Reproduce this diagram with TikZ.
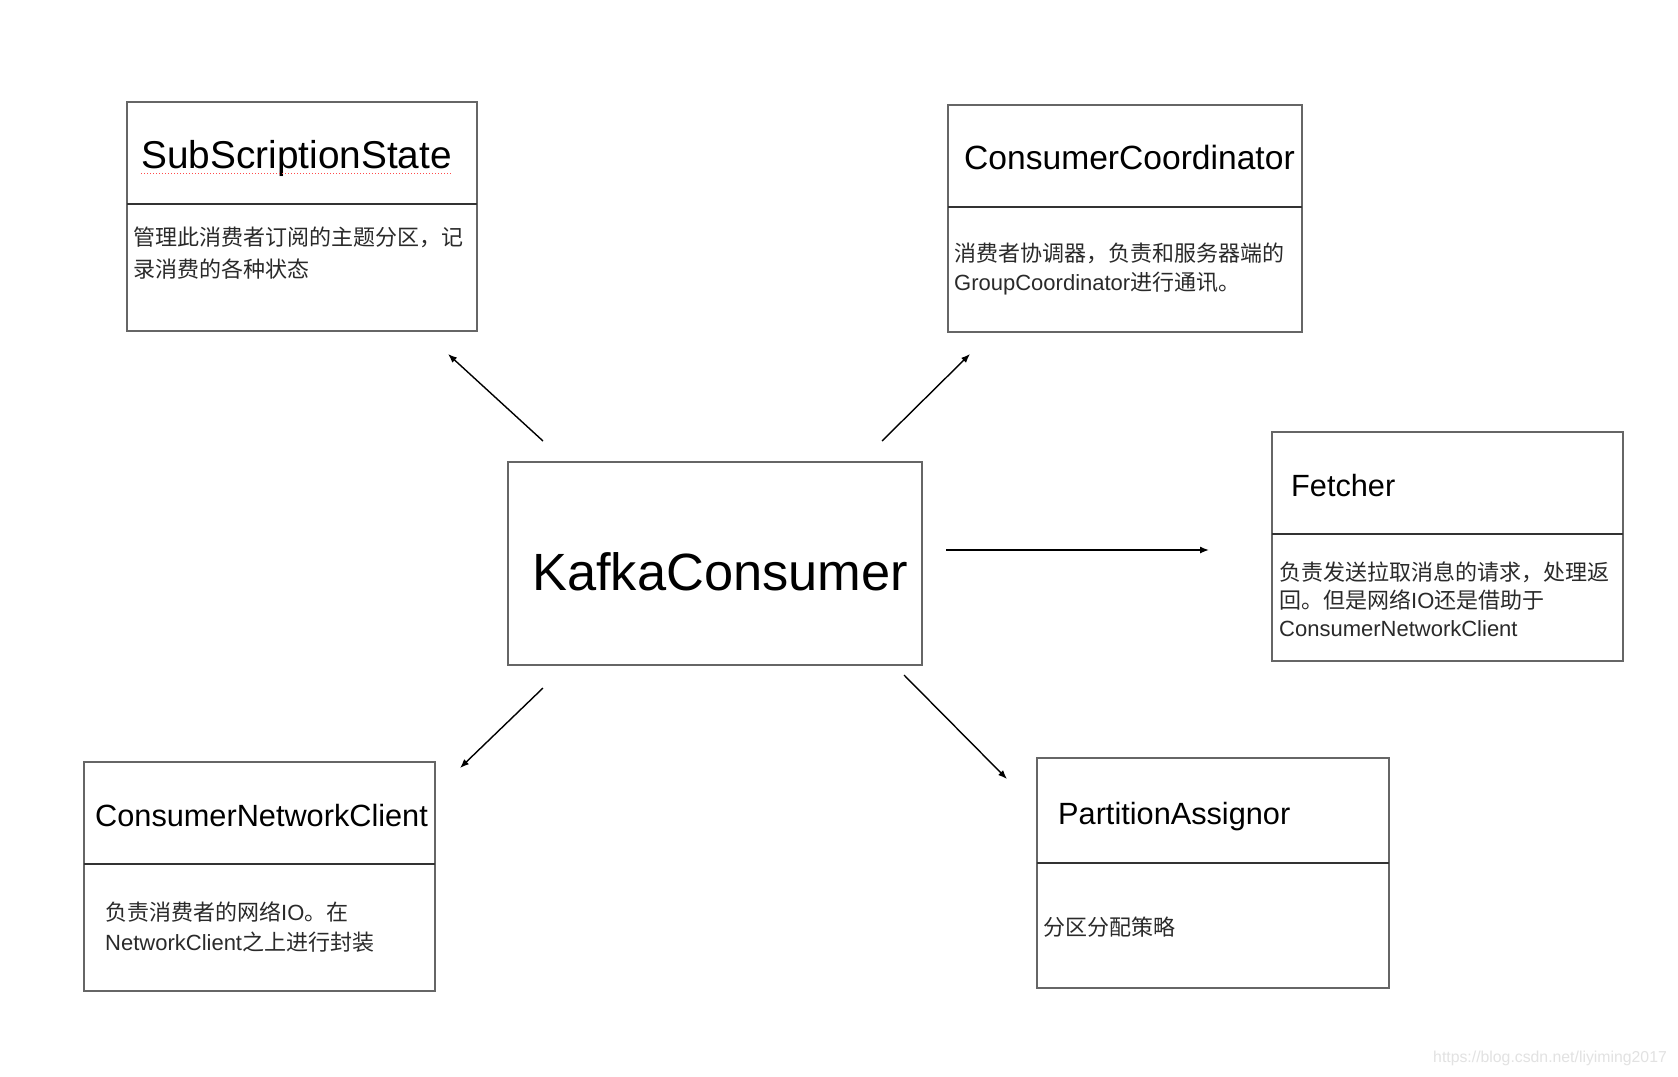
\documentclass[tikz,border=0pt]{standalone}
\usepackage{fontspec}
\setmainfont{Liberation Sans}
\newfontfamily\cjk{Noto Sans CJK SC}
\usetikzlibrary{arrows.meta}
\definecolor{boxline}{HTML}{666666}
\definecolor{divline}{HTML}{333333}
\definecolor{bodytext}{HTML}{2A2A2A}
\definecolor{wmark}{HTML}{E2E2E2}
\tikzset{
  classbox/.style={draw=boxline, line width=1.6pt, inner sep=0pt, fill=none},
  divider/.style={draw=divline, line width=1.8pt},
  headtext/.style={anchor=base west, inner sep=0pt, text=black, font=\fontsize{30.7}{36}\selectfont},
  bodyline/.style={anchor=base west, inner sep=0pt, text=bodytext, font=\fontsize{22}{26}\selectfont},
  link/.style={draw=black, line width=1.4pt, -{Latex[length=9pt,width=7pt]}},
}
\begin{document}
\begin{tikzpicture}[x=1pt,y=-1pt]
\useasboundingbox[fill=white] (0,0) rectangle (1678,1076);

% ---- boxes ----
\node[classbox, minimum width=350pt, minimum height=229pt] (ss) at (302,216.5) {};
\node[classbox, minimum width=354pt, minimum height=227pt] (cc) at (1125,218.5) {};
\node[classbox, minimum width=351pt, minimum height=229pt] (fe) at (1447.5,546.5) {};
\node[classbox, minimum width=351pt, minimum height=229pt] (cnc) at (259.5,876.5) {};
\node[classbox, minimum width=352pt, minimum height=230pt] (pa) at (1213,873) {};
\node[classbox, minimum width=414pt, minimum height=203pt] (kc) at (715,563.5) {};

% ---- dividers ----
\draw[divider] (127,204) -- (477,204);
\draw[divider] (948,207) -- (1302,207);
\draw[divider] (1272,534) -- (1623,534);
\draw[divider] (84,864) -- (435,864);
\draw[divider] (1037,863) -- (1389,863);

% ---- headers ----
\node[headtext, font=\fontsize{38.8}{44}\selectfont] (ssh) at (141,168) {SubScriptionState};
\draw[red!70, line width=1pt, dotted] (141,173) -- (452,173);
\node[headtext, font=\fontsize{33.6}{40}\selectfont] (cch) at (964,169) {ConsumerCoordinator};
\node[headtext] (feh) at (1291,496) {Fetcher};
\node[headtext] (cnch) at (95,826) {ConsumerNetworkClient};
\node[headtext] (pah) at (1058,824) {PartitionAssignor};
\node[headtext, font=\fontsize{52.4}{60}\selectfont] (kch) at (532,590) {KafkaConsumer};

% ---- bodies ----
\node[bodyline] (ssb1) at (133,245) {\cjk 管理此消费者订阅的主题分区，记};
\node[bodyline] (ssb2) at (133,277) {\cjk 录消费的各种状态};

\node[bodyline] (ccb1) at (954,261) {\cjk 消费者协调器，负责和服务器端的};
\node[bodyline] (ccb2) at (954,290) {GroupCoordinator{\cjk 进行通讯。}};

\node[bodyline] (feb1) at (1279,580) {\cjk 负责发送拉取消息的请求，处理返};
\node[bodyline] (feb2) at (1279,608) {{\cjk 回。但是网络}IO{\cjk 还是借助于}};
\node[bodyline] (feb3) at (1279,636) {ConsumerNetworkClient};

\node[bodyline] (cncb1) at (105,920) {{\cjk 负责消费者的网络}IO{\cjk 。在}};
\node[bodyline] (cncb2) at (105,950) {NetworkClient{\cjk 之上进行封装}};

\node[bodyline] (pab1) at (1043,935) {\cjk 分区分配策略};

% ---- arrows (free-standing, as in the reference) ----
\coordinate (a1s) at (543,441); \coordinate (a1e) at (448,354);
\coordinate (a2s) at (882,441); \coordinate (a2e) at (970,354);
\coordinate (a3s) at (946,550); \coordinate (a3e) at (1209,550);
\coordinate (a4s) at (543,688); \coordinate (a4e) at (460,768);
\coordinate (a5s) at (904,675); \coordinate (a5e) at (1007,779);
\draw[link] (a1s) -- (a1e);
\draw[link] (a2s) -- (a2e);
\draw[link] (a3s) -- (a3e);
\draw[link] (a4s) -- (a4e);
\draw[link] (a5s) -- (a5e);

% ---- watermark ----
\node[anchor=base west, inner sep=0pt, text=wmark, font=\fontsize{15.8}{18}\selectfont] (wm) at (1433,1062) {https://blog.csdn.net/liyiming2017};
\end{tikzpicture}
\end{document}
